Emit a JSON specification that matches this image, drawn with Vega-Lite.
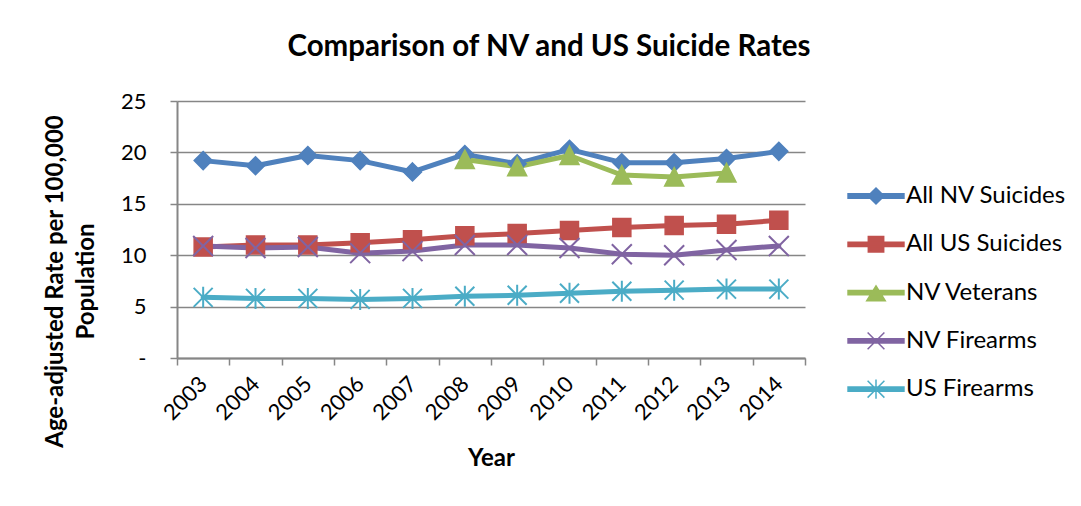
{
  "$schema": "https://vega.github.io/schema/vega-lite/v6.json",
  "width": 628,
  "height": 257,
  "autosize": {"type": "none"},
  "padding": {"left": 177, "top": 101, "right": 276, "bottom": 148},
  "background": "white",
  "title": {
    "text": "Comparison of NV and US Suicide Rates",
    "anchor": "middle",
    "frame": "group",
    "dx": 58,
    "offset": 5,
    "baseline": "alphabetic",
    "font": "Lato",
    "fontSize": 29.5,
    "fontWeight": "bold",
    "color": "black"
  },
  "data": {
    "values": [
      {"year": "2003", "series": "All NV Suicides", "rate": 19.2},
      {"year": "2004", "series": "All NV Suicides", "rate": 18.7},
      {"year": "2005", "series": "All NV Suicides", "rate": 19.7},
      {"year": "2006", "series": "All NV Suicides", "rate": 19.2},
      {"year": "2007", "series": "All NV Suicides", "rate": 18.1},
      {"year": "2008", "series": "All NV Suicides", "rate": 19.8},
      {"year": "2009", "series": "All NV Suicides", "rate": 18.9},
      {"year": "2010", "series": "All NV Suicides", "rate": 20.3},
      {"year": "2011", "series": "All NV Suicides", "rate": 19.0},
      {"year": "2012", "series": "All NV Suicides", "rate": 19.0},
      {"year": "2013", "series": "All NV Suicides", "rate": 19.4},
      {"year": "2014", "series": "All NV Suicides", "rate": 20.1},
      {"year": "2003", "series": "All US Suicides", "rate": 10.8},
      {"year": "2004", "series": "All US Suicides", "rate": 11.0},
      {"year": "2005", "series": "All US Suicides", "rate": 11.0},
      {"year": "2006", "series": "All US Suicides", "rate": 11.2},
      {"year": "2007", "series": "All US Suicides", "rate": 11.5},
      {"year": "2008", "series": "All US Suicides", "rate": 11.9},
      {"year": "2009", "series": "All US Suicides", "rate": 12.1},
      {"year": "2010", "series": "All US Suicides", "rate": 12.4},
      {"year": "2011", "series": "All US Suicides", "rate": 12.7},
      {"year": "2012", "series": "All US Suicides", "rate": 12.9},
      {"year": "2013", "series": "All US Suicides", "rate": 13.0},
      {"year": "2014", "series": "All US Suicides", "rate": 13.4},
      {"year": "2008", "series": "NV Veterans", "rate": 19.3},
      {"year": "2009", "series": "NV Veterans", "rate": 18.6},
      {"year": "2010", "series": "NV Veterans", "rate": 19.7},
      {"year": "2011", "series": "NV Veterans", "rate": 17.8},
      {"year": "2012", "series": "NV Veterans", "rate": 17.6},
      {"year": "2013", "series": "NV Veterans", "rate": 18.0},
      {"year": "2003", "series": "NV Firearms", "rate": 10.9},
      {"year": "2004", "series": "NV Firearms", "rate": 10.7},
      {"year": "2005", "series": "NV Firearms", "rate": 10.8},
      {"year": "2006", "series": "NV Firearms", "rate": 10.2},
      {"year": "2007", "series": "NV Firearms", "rate": 10.4},
      {"year": "2008", "series": "NV Firearms", "rate": 11.0},
      {"year": "2009", "series": "NV Firearms", "rate": 11.0},
      {"year": "2010", "series": "NV Firearms", "rate": 10.7},
      {"year": "2011", "series": "NV Firearms", "rate": 10.1},
      {"year": "2012", "series": "NV Firearms", "rate": 10.0},
      {"year": "2013", "series": "NV Firearms", "rate": 10.5},
      {"year": "2014", "series": "NV Firearms", "rate": 10.9},
      {"year": "2003", "series": "US Firearms", "rate": 5.9},
      {"year": "2004", "series": "US Firearms", "rate": 5.8},
      {"year": "2005", "series": "US Firearms", "rate": 5.8},
      {"year": "2006", "series": "US Firearms", "rate": 5.7},
      {"year": "2007", "series": "US Firearms", "rate": 5.8},
      {"year": "2008", "series": "US Firearms", "rate": 6.0},
      {"year": "2009", "series": "US Firearms", "rate": 6.1},
      {"year": "2010", "series": "US Firearms", "rate": 6.3},
      {"year": "2011", "series": "US Firearms", "rate": 6.5},
      {"year": "2012", "series": "US Firearms", "rate": 6.6},
      {"year": "2013", "series": "US Firearms", "rate": 6.7},
      {"year": "2014", "series": "US Firearms", "rate": 6.7}
    ]
  },
  "encoding": {
    "x": {
      "field": "year",
      "type": "ordinal",
      "scale": {"type": "band", "paddingInner": 0, "paddingOuter": 0},
      "axis": {
        "title": "Year",
        "titleFont": "Lato",
        "titleFontSize": 24,
        "titleFontWeight": "bold",
        "titleColor": "black",
        "titleBaseline": "alphabetic",
        "titleY": 107,
        "labelAngle": -45,
        "labelAlign": "right",
        "labelBaseline": "middle",
        "labelPadding": 15,
        "labelFont": "Lato",
        "labelFontSize": 22,
        "labelColor": "black",
        "tickBand": "extent",
        "tickSize": 7,
        "tickColor": "#868686",
        "tickWidth": 1.5,
        "domainColor": "#868686",
        "domainWidth": 2,
        "grid": false
      }
    },
    "y": {
      "field": "rate",
      "type": "quantitative",
      "scale": {"domain": [0, 25], "nice": false},
      "axis": {
        "title": ["Age-adjusted Rate per 100,000", "Population"],
        "titleFont": "Lato",
        "titleFontSize": 24,
        "titleFontWeight": "bold",
        "titleColor": "black",
        "titleAngle": -90,
        "titleAlign": "center",
        "titleBaseline": "middle",
        "titleLineHeight": 31,
        "titleX": -122,
        "titleY": 180,
        "values": [0, 5, 10, 15, 20, 25],
        "labelExpr": "datum.value == 0 ? '-' : datum.label",
        "labelFont": "Lato",
        "labelFontSize": 22,
        "labelColor": "black",
        "labelPadding": 24,
        "tickSize": 7,
        "tickColor": "#868686",
        "tickWidth": 1.5,
        "domainColor": "#868686",
        "domainWidth": 2,
        "grid": true,
        "gridColor": "#868686",
        "gridWidth": 1.5
      }
    }
  },
  "layer": [
    {
      "mark": {"type": "line", "strokeWidth": 5, "strokeCap": "round", "strokeJoin": "round"},
      "encoding": {
        "color": {
          "field": "series",
          "type": "nominal",
          "scale": {
            "domain": ["All NV Suicides", "All US Suicides", "NV Veterans", "NV Firearms", "US Firearms"],
            "range": ["#4F81BD", "#C0504D", "#9BBB59", "#8064A2", "#4BACC6"]
          },
          "legend": {
            "title": null,
            "orient": "none",
            "legendX": 686,
            "legendY": 82,
            "padding": 0,
            "symbolSize": 576,
            "symbolStrokeWidth": 1.5,
            "labelOffset": 17,
            "rowPadding": 23.3,
            "labelFont": "Lato",
            "labelFontSize": 24,
            "labelColor": "black",
            "labelLimit": 300,
            "encode": {
              "symbols": {
                "update": {
                  "shape": {"signal": "datum.value === 'All NV Suicides' ? 'M-2.33,-0.18L2.33,-0.18L2.33,0.18L-2.33,0.18Z M0,-0.67L0.67,0L0,0.67L-0.67,0Z' : datum.value === 'All US Suicides' ? 'M-2.33,-0.18L2.33,-0.18L2.33,0.18L-2.33,0.18Z M-0.64,-0.64L0.64,-0.64L0.64,0.64L-0.64,0.64Z' : datum.value === 'NV Veterans' ? 'M-2.33,-0.18L2.33,-0.18L2.33,0.18L-2.33,0.18Z M0,-0.55L0.77,0.68L-0.77,0.68Z' : datum.value === 'NV Firearms' ? 'M-2.33,-0.18L2.33,-0.18L2.33,0.18L-2.33,0.18Z M-0.7,-0.7L0.7,0.7M-0.7,0.7L0.7,-0.7' : 'M-2.33,-0.18L2.33,-0.18L2.33,0.18L-2.33,0.18Z M-0.7,-0.7L0.7,0.7M-0.7,0.7L0.7,-0.7M0,-0.8L0,0.8'"},
                  "fill": {"scale": "color", "field": "value"},
                  "stroke": {"scale": "color", "field": "value"},
                  "strokeWidth": {"value": 1.5},
                  "size": {"value": 576},
                  "opacity": {"value": 1}
                }
              }
            }
          }
        }
      }
    },
    {
      "transform": [{"filter": "datum.series === 'All NV Suicides'"}],
      "mark": {"type": "point", "shape": "M0,-0.9L0.9,0L0,0.9L-0.9,0Z", "filled": true, "color": "#4F81BD", "stroke": "#4F81BD", "strokeWidth": 1.5, "size": 400, "opacity": 1}
    },
    {
      "transform": [{"filter": "datum.series === 'All US Suicides'"}],
      "mark": {"type": "point", "shape": "M-0.9,-0.9L0.9,-0.9L0.9,0.9L-0.9,0.9Z", "filled": true, "color": "#C0504D", "stroke": "#C0504D", "strokeWidth": 1.5, "size": 400, "opacity": 1}
    },
    {
      "transform": [{"filter": "datum.series === 'NV Veterans'"}],
      "mark": {"type": "point", "shape": "M0,-0.95L0.95,0.9L-0.95,0.9Z", "filled": true, "color": "#9BBB59", "stroke": "#9BBB59", "strokeWidth": 1.5, "size": 400, "opacity": 1}
    },
    {
      "transform": [{"filter": "datum.series === 'NV Firearms'"}],
      "mark": {"type": "point", "shape": "M-1,-1L1,1M-1,1L1,-1", "filled": false, "color": "#8064A2", "strokeWidth": 2, "size": 400, "opacity": 1}
    },
    {
      "transform": [{"filter": "datum.series === 'US Firearms'"}],
      "mark": {"type": "point", "shape": "M-0.95,-0.95L0.95,0.95M-0.95,0.95L0.95,-0.95M0,-1.05L0,1.05", "filled": false, "color": "#4BACC6", "strokeWidth": 2, "size": 400, "opacity": 1}
    }
  ],
  "config": {
    "view": {"stroke": null}
  }
}
